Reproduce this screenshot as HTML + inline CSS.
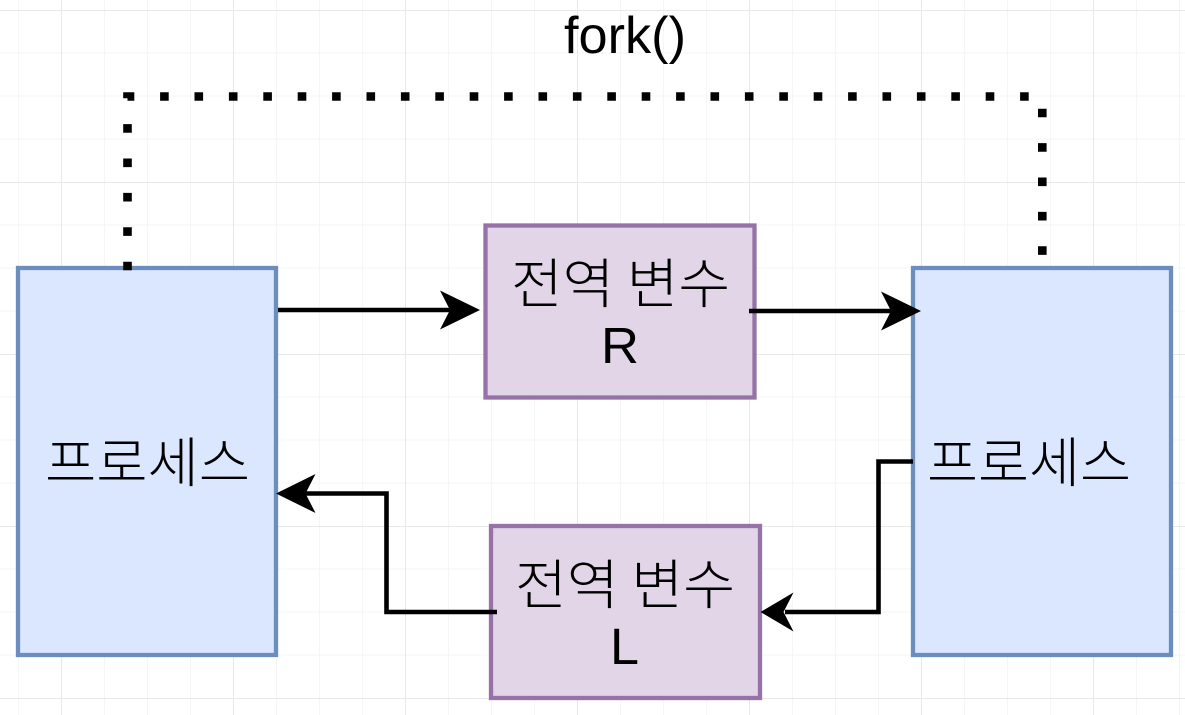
<!DOCTYPE html>
<html><head><meta charset="utf-8"><style>
html,body{margin:0;padding:0;background:#fff;width:1185px;height:715px;overflow:hidden}
svg{display:block}
text{font-family:"Liberation Sans","Noto Sans CJK KR",sans-serif;fill:#000}
.k{font-family:"Noto Sans CJK KR","NanumGothic",sans-serif;font-size:54px;font-weight:300}
</style></head><body>
<svg width="1185" height="715" viewBox="0 0 1185 715" xmlns="http://www.w3.org/2000/svg">
<rect width="1185" height="715" fill="#fff"/>
<path d="M18.5 0V715M104.5 0V715M147.5 0V715M190.5 0V715M276.5 0V715M319.5 0V715M362.5 0V715M448.5 0V715M491.5 0V715M534.5 0V715M620.5 0V715M663.5 0V715M706.5 0V715M792.5 0V715M835.5 0V715M878.5 0V715M964.5 0V715M1007.5 0V715M1050.5 0V715M1136.5 0V715M1179.5 0V715M0 53H1185M0 96H1185M0 139H1185M0 225H1185M0 268H1185M0 311H1185M0 397H1185M0 440H1185M0 483H1185M0 569H1185M0 612H1185M0 655H1185" stroke="#f6f6f6" stroke-width="1" fill="none"/>
<path d="M61.5 0V715M233.5 0V715M405.5 0V715M577.5 0V715M749.5 0V715M921.5 0V715M1093.5 0V715M0 10.5H1185M0 182.5H1185M0 354.5H1185M0 526.5H1185M0 698.5H1185" stroke="#e8e8e8" stroke-width="1" fill="none"/>
<rect x="18" y="268" width="258" height="387" fill="#dae7fe" stroke="#6c8ebf" stroke-width="4.3"/>
<rect x="913" y="268" width="258" height="387" fill="#dae7fe" stroke="#6c8ebf" stroke-width="4.3"/>
<rect x="485.5" y="225.5" width="269" height="172" fill="#e1d5e7" stroke="#9673a6" stroke-width="4.3"/>
<rect x="491" y="526" width="269" height="172" fill="#e1d5e7" stroke="#9673a6" stroke-width="4.3"/>
<path d="M127.5 270.3V96.5H1042.3V268" fill="none" stroke="#000" stroke-width="8.6" stroke-dasharray="8.6 25.8"/>
<g fill="none" stroke="#000" stroke-width="4.6">
<path d="M278 310H455"/>
<path d="M749 311H893"/>
<path d="M913 461.5H878.5V612H785"/>
<path d="M497 612H386.5V493.5H305"/>
</g>
<g fill="#000">
<path d="M480 310L440 329.5L450 310L440 290.5Z"/>
<path d="M921 311L881 330.5L891 311L881 291.5Z"/>
<path d="M760.5 612L793.5 592.5L783.5 612L793.5 631.5Z"/>
<path d="M276 493.5L315.5 474L305.5 493.5L315.5 513Z"/>
</g>
<text class="k" x="45" y="482" textLength="205" lengthAdjust="spacingAndGlyphs">프로세스</text>
<text class="k" x="927" y="482" textLength="204" lengthAdjust="spacingAndGlyphs">프로세스</text>
<text class="k" x="511" y="303" textLength="219" lengthAdjust="spacingAndGlyphs">전역 변수</text>
<text class="k" x="515" y="604" textLength="220" lengthAdjust="spacingAndGlyphs">전역 변수</text>
<text x="601" y="363" font-size="51" textLength="38" lengthAdjust="spacingAndGlyphs">R</text>
<text x="610" y="664" font-size="51" textLength="29" lengthAdjust="spacingAndGlyphs">L</text>
<text x="564" y="53" font-size="52" textLength="122" lengthAdjust="spacingAndGlyphs">fork()</text>
</svg>
</body></html>
